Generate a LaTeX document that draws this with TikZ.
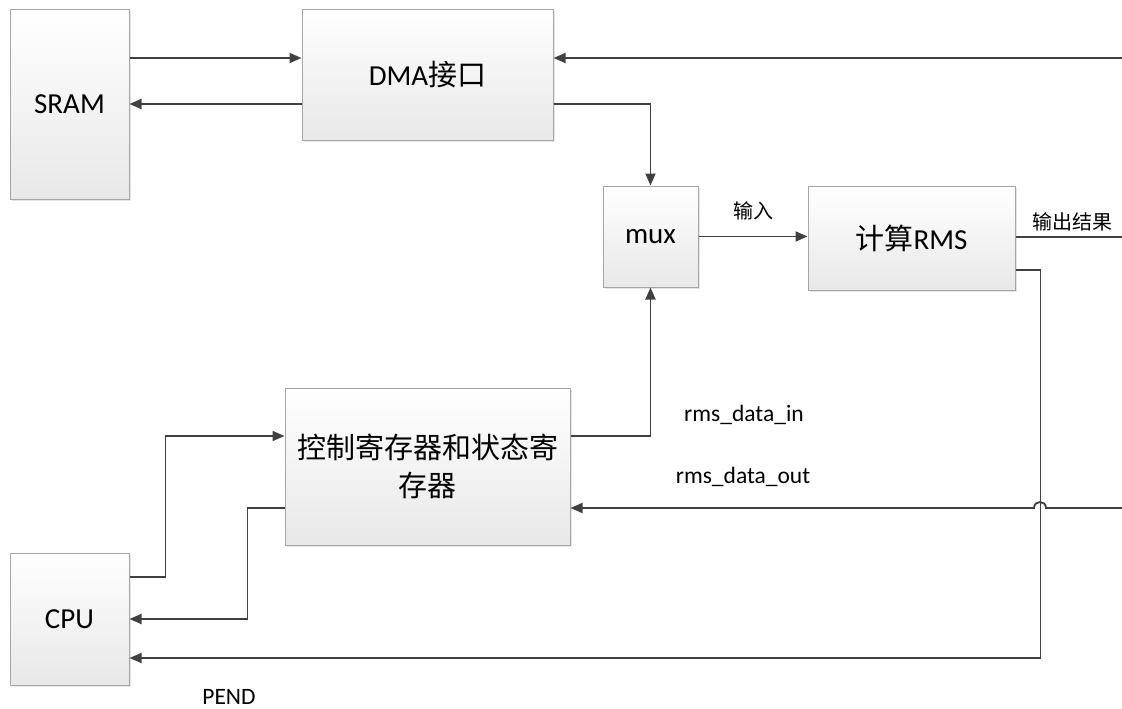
\documentclass[tikz,border=0pt]{standalone}
\usepackage{fontspec}
\setmainfont{Carlito}
\newfontfamily\cjk{Noto Sans CJK SC}
\usepackage{xcolor}
\usetikzlibrary{calc}
\usetikzlibrary{arrows.meta}
\usetikzlibrary{shadows}

\definecolor{linegray}{HTML}{404040}
\definecolor{boxline}{HTML}{A6A6A6}

\begin{document}
\begin{tikzpicture}[x=1pt, y=-1pt]

        % Looks of the blocks and of the wires
        \tikzset{
            block/.style={draw=boxline, line width=1pt, top color=white,
                bottom color=black!9, inner sep=0pt, align=center,
                font=\fontsize{29}{38}\selectfont,
                drop shadow={shadow xshift=1.5pt, shadow yshift=-1.5pt,
                    opacity=0.2}},
            wire/.style={draw=linegray, line width=1.8pt},
            arr/.style={wire, -{Triangle[length=12pt, width=10pt]}},
            lbl/.style={font=\fontsize{23.5}{28}\selectfont},
            zhlbl/.style={font=\cjk\fontsize{20}{24}\selectfont}
        }

        \useasboundingbox (0,0) rectangle (1122,709);

        % Blocks
        \begin{scope}
            \node[block, minimum width=119pt, minimum height=189pt]
                (SRAM) at (69.5,104.5) {SRAM};
            \node[block, minimum width=251pt, minimum height=130pt]
                (DMA) at (427.5,75) {DMA{\cjk 接口}};
            \node[block, minimum width=95pt, minimum height=101pt]
                (MUX) at (650.5,236.5) {mux};
            \node[block, minimum width=207pt, minimum height=104pt]
                (RMS) at (911.5,238) {{\cjk 计算}RMS};
            \node[block, minimum width=285pt, minimum height=157pt]
                (CSR) at (427.5,466.5)
                {{\cjk 控制寄存器和状态寄}\\{\cjk 存器}};
            \node[block, minimum width=119pt, minimum height=132pt]
                (CPU) at (69.5,619) {CPU};

            \node[lbl] (DIn) at (744,415) {rms\_data\_in};
            \node[lbl] (DOut) at (743,477) {rms\_data\_out};
            \node[lbl] (PEND) at (229,697) {PEND};
        \end{scope}

        % Free ends on the right edge
        \coordinate (DmaIn) at (1122,58);
        \coordinate (RmsOut) at (1122,237);
        \coordinate (CsrIn) at (1122,508);

        % Wires
        \begin{scope}
            \draw[arr] ([yshift=46.5pt]SRAM.east) coordinate (s1)
                -- (s1 -| DMA.west);
            \draw[arr] ([yshift=-29pt]DMA.west) coordinate (s2)
                -- (s2 -| SRAM.east);
            \draw[arr] (DmaIn) -- (DmaIn -| DMA.east);
            \draw[arr] ([yshift=-29pt]DMA.east) -| (MUX.north);
            \draw[arr] (MUX.east) -- (MUX.east -| RMS.west)
                node[zhlbl, midway, above=12pt] {输入};
            \draw[wire] (RMS.east |- RmsOut) -- (RmsOut)
                node[zhlbl, midway, above=2pt, xshift=3.5pt] {输出结果};
            \draw[arr] ([yshift=-32pt]RMS.east) -- ++(25,0)
                |- ([yshift=-39pt]CPU.east);
            \draw[arr] ([yshift=30.5pt]CSR.east) -| (MUX.south);
            % hop over the PEND wire
            \draw[arr] (CsrIn) -- (1046,508)
                .. controls (1046,500) and (1034,500) .. (1034,508)
                -- ([yshift=-41.5pt]CSR.east);
            \draw[arr] ([yshift=42pt]CPU.east) -- ++(36,0)
                |- ([yshift=30.5pt]CSR.west);
            \draw[arr] ([yshift=-41.5pt]CSR.west) -- ++(-37,0)
                |- (CPU.east);
        \end{scope}

\end{tikzpicture}
\end{document}
